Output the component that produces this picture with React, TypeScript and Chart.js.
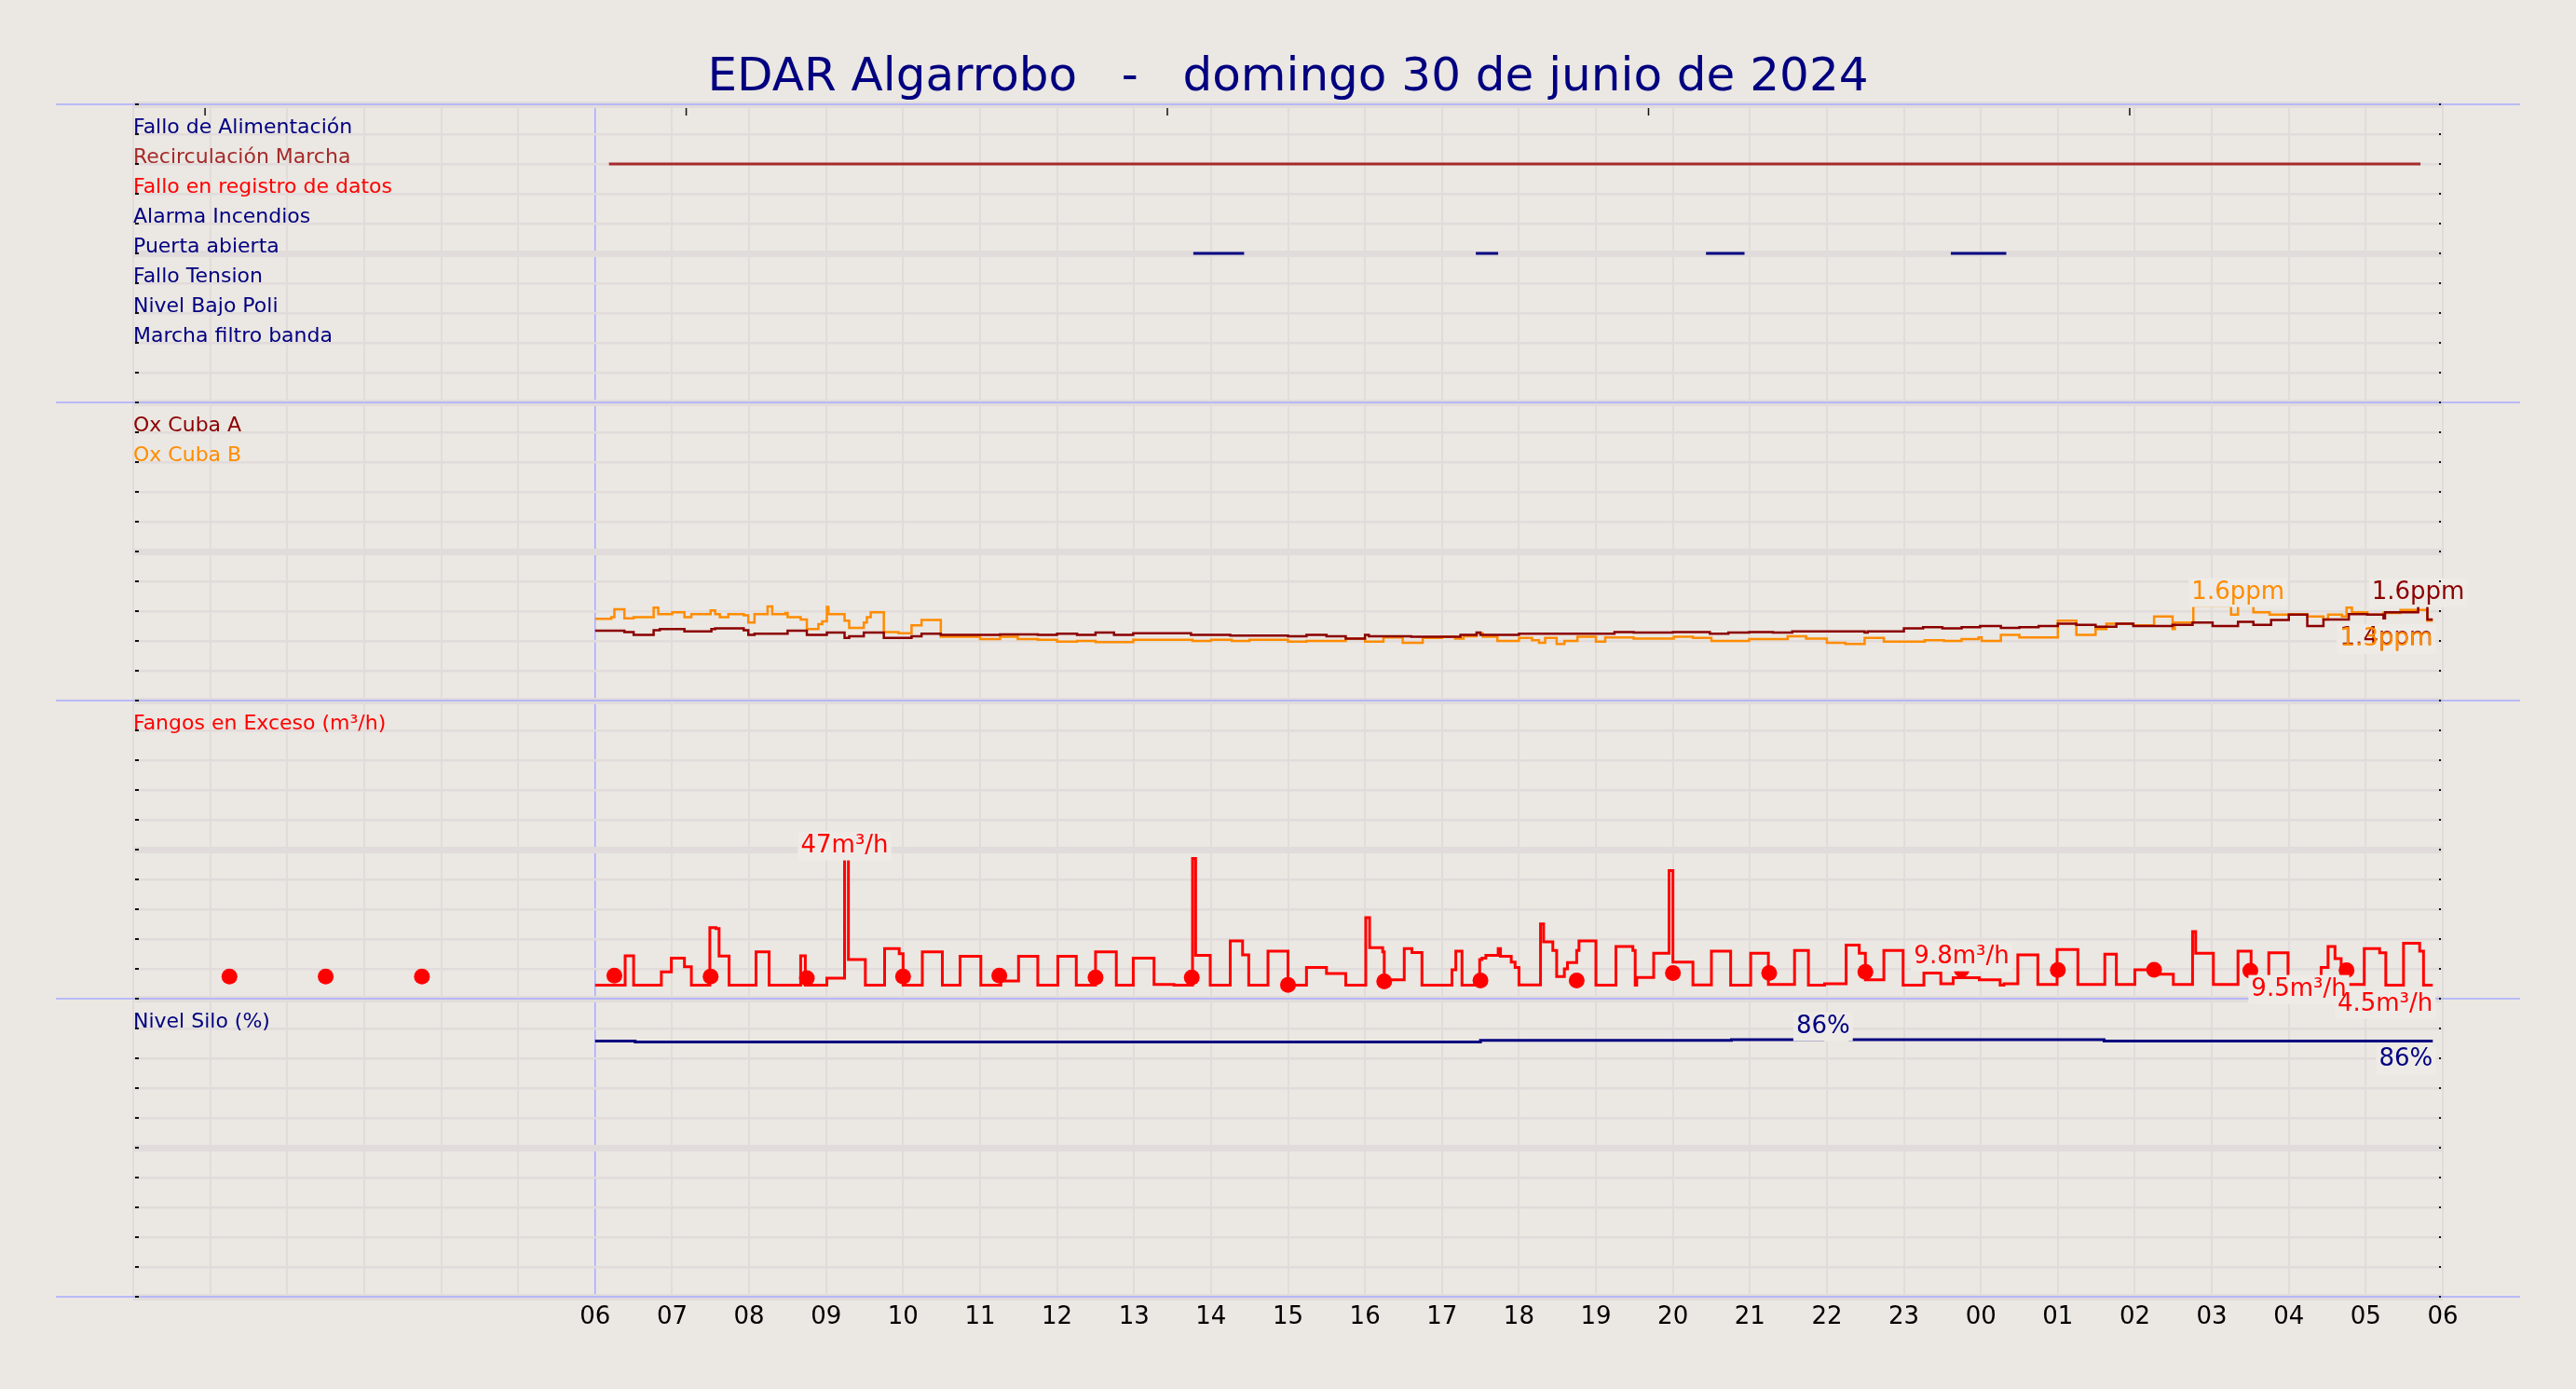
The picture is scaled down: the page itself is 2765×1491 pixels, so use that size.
import React, { useEffect, useRef } from "react";
import { Chart, registerables } from "chart.js";

Chart.register(...registerables);

const FONT = '"DejaVu Sans", sans-serif';
const BG = "#ebe7e2";
const GRID = "#e1dcdb";
const SEP = "#a9abff";
const BOX = "#eeebe7";
const NAVY = "#000080";

const title = "EDAR Algarrobo   -   domingo 30 de junio de 2024";

// x axis: hours counted from 00:00 of day 30 (0..30 -> 00h .. 06h next day)
const topTickHours = [0.93, 7.18, 13.43, 19.68, 25.93];

// digital signals, top row first (levels 9..2 of the first panel)
const signalNames = [
  "Fallo de Alimentación",
  "Recirculación Marcha",
  "Fallo en registro de datos",
  "Alarma Incendios",
  "Puerta abierta",
  "Fallo Tension",
  "Nivel Bajo Poli",
  "Marcha filtro banda",
];
const signalColors = [NAVY, "#a52a2a", "#ff0000", NAVY, NAVY, NAVY, NAVY, NAVY];
const signalOn: number[][][] = [
  [],
  [[6.18, 29.71]],
  [],
  [],
  [[13.77, 14.43], [17.44, 17.73], [20.43, 20.93], [23.61, 24.33]],
  [],
  [],
  [],
];

// oxygen (ppm), [hour, value] step points
const oxA = [
  [6.0, 1.17], [6.38, 1.15], [6.5, 1.1], [6.76, 1.18], [6.84, 1.2], [7.16, 1.16], [7.51, 1.2], [7.56, 1.21],
  [7.93, 1.18], [7.99, 1.1], [8.07, 1.12], [8.5, 1.17], [8.75, 1.1], [9.01, 1.14], [9.24, 1.05], [9.3, 1.08],
  [9.49, 1.14], [9.75, 1.05], [10.11, 1.08], [10.24, 1.12], [10.49, 1.1], [11.26, 1.11], [11.75, 1.1],
  [12.0, 1.12], [12.26, 1.1], [12.5, 1.14], [12.74, 1.1], [12.99, 1.13], [13.74, 1.1], [14.25, 1.09],
  [15.0, 1.08], [15.24, 1.1], [15.5, 1.08], [15.75, 1.04], [16.0, 1.1], [16.05, 1.08], [16.6, 1.07],
  [17.24, 1.1], [17.45, 1.14], [17.5, 1.1], [18.0, 1.12], [19.24, 1.15], [19.49, 1.14], [20.0, 1.15],
  [20.48, 1.12], [20.72, 1.14], [20.99, 1.15], [21.3, 1.14], [21.55, 1.16], [22.49, 1.14], [22.53, 1.16],
  [23.0, 1.21], [23.25, 1.23], [23.5, 1.21], [23.75, 1.23], [23.99, 1.25], [24.26, 1.22], [24.5, 1.23],
  [24.75, 1.25], [25.0, 1.29], [25.24, 1.27], [25.49, 1.24], [25.76, 1.29], [25.98, 1.25], [26.49, 1.27],
  [26.75, 1.31], [27.01, 1.25], [27.34, 1.32], [27.54, 1.27], [27.77, 1.35], [28.0, 1.44], [28.24, 1.25],
  [28.45, 1.36], [28.78, 1.45], [29.02, 1.44], [29.23, 1.38], [29.25, 1.48], [29.68, 1.6], [29.8, 1.36],
  [29.87, 1.36],
];
const oxB = [
  [6.0, 1.37], [6.21, 1.4], [6.25, 1.53], [6.38, 1.38], [6.5, 1.4], [6.76, 1.56], [6.82, 1.45], [7.0, 1.48],
  [7.16, 1.4], [7.25, 1.45], [7.5, 1.51], [7.56, 1.45], [7.62, 1.4], [7.73, 1.45], [7.93, 1.43], [7.99, 1.31],
  [8.07, 1.45], [8.24, 1.58], [8.3, 1.45], [8.47, 1.47], [8.5, 1.4], [8.67, 1.36], [8.75, 1.2], [8.9, 1.28],
  [8.95, 1.33], [9.01, 1.57], [9.03, 1.45], [9.24, 1.34], [9.3, 1.22], [9.49, 1.31], [9.53, 1.4], [9.58, 1.48],
  [9.75, 1.15], [9.94, 1.13], [10.11, 1.26], [10.24, 1.35], [10.49, 1.07], [11.0, 1.03], [11.26, 1.07],
  [11.49, 1.03], [11.75, 1.02], [12.0, 0.99], [12.26, 1.0], [12.5, 0.98], [12.99, 1.02], [13.76, 1.0],
  [14.0, 1.02], [14.27, 1.0], [14.5, 1.02], [15.0, 0.99], [15.24, 1.0], [15.75, 1.04], [16.0, 0.99],
  [16.24, 1.06], [16.49, 0.97], [16.75, 1.05], [17.0, 1.07], [17.17, 1.04], [17.28, 1.08], [17.45, 1.13],
  [17.53, 1.07], [17.72, 1.0], [18.0, 1.05], [18.17, 1.01], [18.26, 0.97], [18.34, 1.05], [18.49, 0.95],
  [18.59, 1.0], [18.76, 1.07], [19.0, 0.99], [19.12, 1.06], [19.49, 1.04], [20.01, 1.07], [20.26, 1.05],
  [20.5, 1.0], [20.99, 1.03], [21.49, 1.08], [21.73, 1.04], [22.0, 0.97], [22.24, 0.95], [22.49, 1.05],
  [22.74, 0.99], [23.27, 1.01], [23.52, 1.0], [23.75, 1.03], [23.97, 1.06], [24.01, 1.0], [24.26, 1.1],
  [24.5, 1.06], [25.0, 1.34], [25.24, 1.1], [25.49, 1.2], [25.63, 1.29], [25.98, 1.26], [26.25, 1.41],
  [26.49, 1.2], [26.52, 1.31], [26.76, 1.59], [27.25, 1.44], [27.34, 1.6], [27.54, 1.48], [27.75, 1.44],
  [28.0, 1.45], [28.24, 1.41], [28.45, 1.36], [28.51, 1.44], [28.69, 1.41], [28.75, 1.56], [28.82, 1.48],
  [29.02, 1.44], [29.23, 1.47], [29.45, 1.52], [29.8, 1.34], [29.87, 1.34],
];

// excess sludge flow (m3/h), [hour, value] step points
const fangos = [
  [6.0, 4.5], [6.39, 14.4], [6.5, 4.5], [6.86, 9.0], [6.99, 13.6], [7.16, 10.7], [7.25, 4.5], [7.49, 23.8],
  [7.57, 23.5], [7.61, 14.3], [7.74, 4.5], [8.09, 15.7], [8.26, 4.5], [8.67, 14.4], [8.73, 4.5], [9.01, 6.9],
  [9.24, 47], [9.29, 13.1], [9.51, 4.5], [9.76, 16.8], [9.95, 15.1], [10.0, 4.5], [10.25, 15.7], [10.51, 4.5],
  [10.74, 14.2], [11.01, 4.5], [11.27, 5.9], [11.5, 14.2], [11.75, 4.5], [12.01, 14.2], [12.25, 4.5],
  [12.5, 15.7], [12.77, 4.5], [12.99, 13.6], [13.26, 4.8], [13.52, 4.5], [13.76, 47], [13.8, 14.5],
  [13.99, 4.5], [14.25, 19.4], [14.41, 14.7], [14.49, 4.5], [14.74, 15.9], [15.0, 4.5], [15.24, 10.5],
  [15.5, 8.4], [15.75, 4.5], [16.01, 27.2], [16.06, 17.1], [16.23, 15.7], [16.25, 6.3], [16.51, 16.8],
  [16.61, 15.5], [16.74, 4.5], [17.13, 9.7], [17.18, 15.9], [17.26, 4.5], [17.49, 13.1], [17.52, 13.6],
  [17.57, 14.5], [17.73, 16.8], [17.76, 14.2], [17.9, 12.3], [17.95, 10.5], [18.0, 4.6], [18.28, 25.1],
  [18.32, 19.1], [18.44, 16.2], [18.49, 7.4], [18.59, 10.0], [18.63, 12.1], [18.75, 16.2], [18.78, 19.4],
  [19.0, 4.5], [19.26, 17.5], [19.48, 16.2], [19.51, 4.5], [19.53, 7.1], [19.75, 15.2], [19.95, 43],
  [20.0, 12.3], [20.26, 4.6], [20.5, 15.9], [20.75, 4.5], [21.01, 15.2], [21.24, 4.8], [21.58, 16.2],
  [21.76, 4.5], [21.97, 5.0], [22.25, 18.0], [22.42, 15.2], [22.5, 6.3], [22.74, 16.2], [22.99, 4.5],
  [23.26, 8.6], [23.48, 5.0], [23.64, 7.0], [23.98, 6.3], [24.25, 4.5], [24.3, 5.0], [24.48, 14.7],
  [24.74, 4.8], [24.99, 16.5], [25.26, 4.8], [25.61, 14.9], [25.76, 4.8], [26.0, 9.7], [26.25, 8.2],
  [26.5, 4.8], [26.75, 22.5], [26.79, 15.2], [27.02, 4.8], [27.34, 15.9], [27.51, 4.8], [27.74, 15.4],
  [27.99, 4.8], [28.42, 10.5], [28.51, 17.5], [28.6, 13.4], [28.68, 4.8], [28.98, 16.8], [29.18, 15.4],
  [29.26, 4.5], [29.49, 18.6], [29.7, 15.9], [29.75, 4.5], [29.87, 4.5],
];
const fangosDots = [
  [1.25, 7.4], [2.5, 7.4], [3.75, 7.4], [6.25, 7.7], [7.5, 7.4], [8.75, 6.9], [10.0, 7.4], [11.25, 7.7],
  [12.5, 7.1], [13.75, 7.1], [15.0, 4.6], [16.25, 5.8], [17.5, 6.1], [18.75, 6.1], [20.0, 8.6], [21.25, 8.6],
  [22.5, 9.0], [23.75, 9.8], [25.0, 9.6], [26.25, 9.7], [27.5, 9.4], [28.75, 9.5],
];

// silo level (%)
const silo = [
  [6.0, 85.8], [6.52, 85.5], [17.5, 86.0], [20.76, 86.25], [21.95, 86.4], [22.3, 86.25], [25.6, 85.8],
  [29.87, 85.8],
];

const toXY = (pairs: number[][]) => pairs.map(([x, y]) => ({ x, y }));
const one = (v: number) => v.toFixed(1);
const flow = (v: number) => (v >= 10 ? String(Math.round(v)) : v.toFixed(1));

const rowLabel = (scaleId: string, v: number) => {
  if (scaleId === "yDig") {
    const i = 9 - Math.round(v);
    return i >= 0 && i < signalNames.length ? { text: signalNames[i], color: signalColors[i] } : null;
  }
  if (scaleId === "yOx") {
    if (Math.abs(v - 4.5) < 1e-6) return { text: "Ox Cuba A", color: "#8b0000" };
    if (Math.abs(v - 4) < 1e-6) return { text: "Ox Cuba B", color: "#ff8c00" };
    return null;
  }
  if (Math.abs(v - 90) < 1e-6) {
    return scaleId === "yFangos"
      ? { text: "Fangos en Exceso (m³/h)", color: "#ff0000" }
      : { text: "Nivel Silo (%)", color: NAVY };
  }
  return null;
};

const panelScale = (id: string, max: number, step: number) => ({
  type: "linear",
  position: "left",
  stack: "panels",
  stackWeight: 1,
  min: 0,
  max,
  border: { display: false },
  grid: {
    color: GRID,
    lineWidth: (c: any) => (c.index % 5 === 0 ? 7 : 2.5),
    drawTicks: false,
  },
  ticks: {
    stepSize: step,
    autoSkip: false,
    mirror: true,
    padding: 0,
    labelOffset: -7,
    font: { family: FONT, size: 22 },
    callback: (v: any) => rowLabel(id, Number(v))?.text ?? "",
    color: (c: any) => rowLabel(id, c.tick ? c.tick.value : -1)?.color ?? "#000",
  },
  afterFit: (s: any) => {
    s.width = 0;
  },
});

// max value above its point, last value under the line end
const valueLabels = {
  id: "valueLabels",
  afterDatasetsDraw(chart: any) {
    const ctx = chart.ctx;
    const items: any[] = [];
    chart.data.datasets.forEach((ds: any, i: number) => {
      if (!ds.annot) return;
      const meta = chart.getDatasetMeta(i);
      const pts = ds.data;
      let maxI = -1;
      pts.forEach((p: any, j: number) => {
        if (p.y != null && (maxI < 0 || p.y > pts[maxI].y)) maxI = j;
      });
      const lastI = pts.length - 1;
      const color = ds.annot.color;
      const mEl = meta.data[maxI];
      const lEl = meta.data[lastI];
      items.push({ text: ds.annot.fmt(pts[maxI].y), x: mEl.x, y: mEl.y - 7, align: "center", color });
      items.push({ text: ds.annot.fmt(pts[lastI].y), x: lEl.x, y: lEl.y + 27, align: "right", color });
    });
    ctx.save();
    ctx.font = `26px ${FONT}`;
    ctx.textBaseline = "alphabetic";
    items.forEach((it) => {
      const w = ctx.measureText(it.text).width;
      const left = it.align === "center" ? it.x - w / 2 : it.x - w;
      ctx.fillStyle = BOX;
      ctx.fillRect(left - 3, it.y - 22, w + 6, 31);
    });
    items.forEach((it) => {
      ctx.fillStyle = it.color;
      ctx.textAlign = it.align;
      ctx.fillText(it.text, it.x, it.y);
    });
    ctx.restore();
  },
};

// light blue lines between panels, wider than the plot
const separators = {
  id: "separators",
  beforeDatasetsDraw(chart: any) {
    const { ctx, chartArea: a } = chart;
    const ys = new Set<number>();
    Object.values(chart.scales).forEach((s: any) => {
      if (s.axis === "y") {
        ys.add(Math.round(s.top));
        ys.add(Math.round(s.bottom));
      }
    });
    ctx.save();
    ctx.strokeStyle = SEP;
    ctx.lineWidth = 1.5;
    ys.forEach((y) => {
      ctx.beginPath();
      ctx.moveTo(a.left - 83, y);
      ctx.lineTo(a.right + 83, y);
      ctx.stroke();
    });
    ctx.restore();
  },
};

// small inward tick marks
const tickMarks = {
  id: "tickMarks",
  afterDraw(chart: any) {
    const { ctx, chartArea: a } = chart;
    ctx.save();
    ctx.fillStyle = "#111";
    Object.values(chart.scales).forEach((s: any) => {
      if (s.axis !== "y") return;
      s.ticks.forEach((_t: any, i: number) => {
        const y = s.getPixelForTick(i);
        ctx.fillRect(a.left + 2, y - 1, 4, 2);
        ctx.fillRect(a.right - 4, y - 1, 2, 2);
      });
    });
    topTickHours.forEach((h) => {
      const x = chart.scales.x.getPixelForValue(h);
      ctx.fillRect(x - 0.5, a.top + 4, 1.5, 8);
    });
    ctx.restore();
  },
};

const App: React.FC = () => {
  const canvasRef = useRef<HTMLCanvasElement | null>(null);

  useEffect(() => {
    if (!canvasRef.current) return;
    Chart.defaults.font.family = FONT;

    const digital = signalNames.map((name, i) => ({
      label: name,
      yAxisID: "yDig",
      data: signalOn[i].flatMap(([s, e]) => [
        { x: s, y: 9 - i },
        { x: e, y: 9 - i },
        { x: e, y: null },
      ]),
      borderColor: signalColors[i],
      borderWidth: 3,
      pointRadius: 0,
    }));

    const chart = new Chart(canvasRef.current, {
      type: "line",
      data: {
        datasets: [
          ...digital,
          {
            label: "Ox Cuba A",
            yAxisID: "yOx",
            data: toXY(oxA),
            borderColor: "#8b0000",
            borderWidth: 2.5,
            stepped: true,
            pointRadius: 0,
            annot: { fmt: (v: number) => one(v) + "ppm", color: "#8b0000" },
          },
          {
            label: "Ox Cuba B",
            yAxisID: "yOx",
            data: toXY(oxB),
            borderColor: "#ff8c00",
            borderWidth: 2.5,
            stepped: true,
            pointRadius: 0,
            annot: { fmt: (v: number) => one(v) + "ppm", color: "#ff8c00" },
          },
          {
            label: "Fangos (muestras)",
            yAxisID: "yFangos",
            data: toXY(fangosDots),
            showLine: false,
            pointRadius: 8.5,
            pointBackgroundColor: "#ff0000",
            pointBorderWidth: 0,
            annot: { fmt: (v: number) => flow(v) + "m³/h", color: "#ff0000" },
          },
          {
            label: "Fangos en Exceso",
            yAxisID: "yFangos",
            data: toXY(fangos),
            borderColor: "#ff0000",
            borderWidth: 3,
            stepped: true,
            pointRadius: 0,
            annot: { fmt: (v: number) => flow(v) + "m³/h", color: "#ff0000" },
          },
          {
            label: "Nivel Silo",
            yAxisID: "ySilo",
            data: toXY(silo),
            borderColor: NAVY,
            borderWidth: 3,
            stepped: true,
            pointRadius: 0,
            annot: { fmt: (v: number) => Math.round(v) + "%", color: NAVY },
          },
        ] as any,
      },
      options: {
        responsive: false,
        devicePixelRatio: 1,
        animation: false,
        events: [],
        layout: { padding: { left: 143, right: 143, top: 0, bottom: 0 } },
        plugins: {
          legend: { display: false },
          tooltip: { enabled: false },
          title: {
            display: true,
            text: title,
            color: NAVY,
            font: { family: FONT, size: 50, weight: "normal", lineHeight: 1.06 },
            padding: { top: 58, bottom: 1 },
          },
        },
        scales: {
          x: {
            type: "linear",
            min: 0,
            max: 30,
            border: { display: false },
            grid: {
              color: (c: any) => (c.tick && c.tick.value === 6 ? SEP : GRID),
              lineWidth: (c: any) => (c.tick && c.tick.value === 6 ? 1.5 : 2),
              drawTicks: false,
            },
            ticks: {
              stepSize: 1,
              autoSkip: false,
              maxRotation: 0,
              padding: 7,
              color: "#000",
              font: { family: FONT, size: 26 },
              callback: (v: any) => (Number(v) >= 6 ? String(Number(v) % 24).padStart(2, "0") : ""),
            },
            afterFit: (s: any) => {
              s.height = 99;
            },
          },
          // left stacked axes: the last one defined ends up on top
          ySilo: panelScale("ySilo", 100, 10),
          yFangos: panelScale("yFangos", 100, 10),
          yOx: panelScale("yOx", 5, 0.5),
          yDig: panelScale("yDig", 10, 1),
        } as any,
      },
      plugins: [separators, valueLabels, tickMarks],
    });

    return () => {
      chart.destroy();
    };
  }, []);

  return (
    <div style={{ position: "fixed", left: 0, top: 0, width: 2765, height: 1491, background: BG }}>
      <canvas ref={canvasRef} width={2765} height={1491} style={{ display: "block" }} />
    </div>
  );
};

export default App;
